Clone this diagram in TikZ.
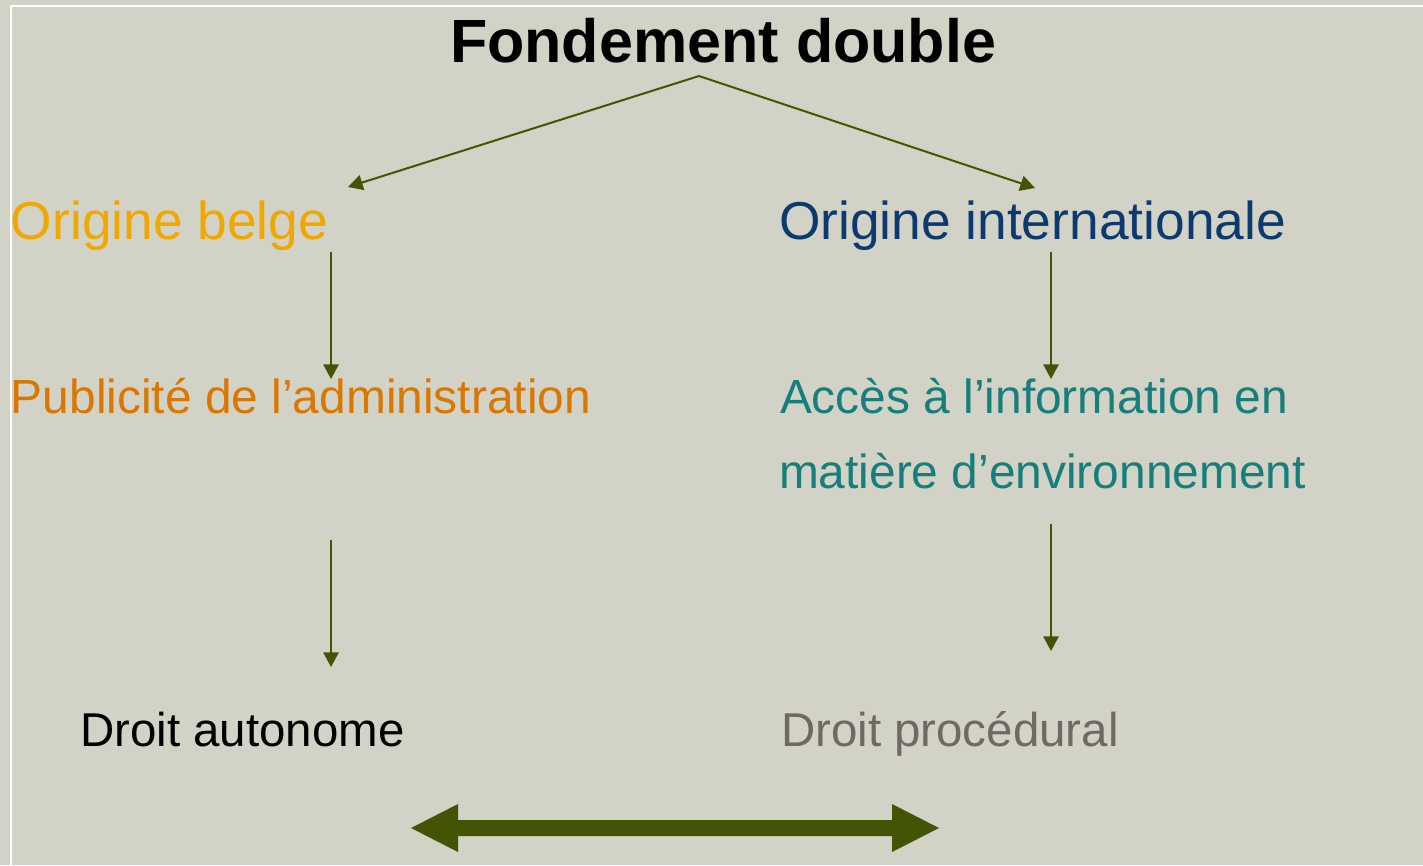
\documentclass[tikz,border=0pt]{standalone}
\usepackage{fontspec}
\setmainfont{Liberation Sans}
\usetikzlibrary{arrows.meta}

\definecolor{bgcol}{HTML}{D2D2C6}
\definecolor{olive}{HTML}{435505}
\definecolor{gold}{HTML}{F0A800}
\definecolor{amber}{HTML}{D97700}
\definecolor{navy}{HTML}{0C3A6E}
\definecolor{teal}{HTML}{167E7B}
\definecolor{stone}{HTML}{6E6962}

\tikzset{
  lbl/.style={anchor=base west, inner sep=0pt, outer sep=0pt},
  big/.style={lbl, font=\fontsize{40pt}{46pt}\selectfont},
  mid/.style={lbl, font=\fontsize{35.9pt}{42pt}\selectfont},
  small/.style={lbl, font=\fontsize{35.6pt}{42pt}\selectfont},
  link/.style={draw=olive, line width=1.5pt,
    -{Triangle[length=11pt, width=11.5pt]}, shorten >=0pt},
}

\begin{document}
\begin{tikzpicture}[x=0.75pt, y=-0.75pt]
  % page and background
  \useasboundingbox (0,0) rectangle (1423,865);
  \fill[bgcol] (0,0) rectangle (1423,865);
  % white frame lines
  \draw[white, line width=1.6pt] (11,866) -- (11,6) -- (1424,6);

  % title
  \node[lbl, font=\fontsize{45.8pt}{52pt}\selectfont\bfseries] (title) at (450,62) {Fondement double};

  % first level
  \node[big, text=gold] (belge) at (11,239) {Origine belge};
  \node[big, text=navy] (intl) at (779,239) {Origine internationale};

  % second level
  \node[mid, text=amber] (publ) at (11,413) {Publicité de l’administration};
  \node[mid, text=teal] (acces) at (780,413) {Accès à l’information en};
  \node[mid, text=teal] (acces2) at (779,488) {matière d’environnement};

  % third level
  \node[small, text=black] (auto) at (80,746) {Droit autonome};
  \node[small, text=stone] (proc) at (781,746) {Droit procédural};

  % connector end points
  \coordinate (apex) at (699,76);
  \coordinate (toBelge) at (348,187);
  \coordinate (toIntl) at (1035,188);
  \coordinate (b1) at (331,252);
  \coordinate (b2) at (331,379);
  \coordinate (i1) at (1051,252);
  \coordinate (i2) at (1051,379);
  \coordinate (b3) at (331,540);
  \coordinate (b4) at (331,667);
  \coordinate (i3) at (1051,524);
  \coordinate (i4) at (1051,651);

  % connectors
  \draw[link] (apex) -- (toBelge);
  \draw[link] (apex) -- (toIntl);
  \draw[link] (b1) -- (b2);
  \draw[link] (i1) -- (i2);
  \draw[link] (b3) -- (b4);
  \draw[link] (i3) -- (i4);

  % thick two-headed arrow
  \fill[olive] (411,828) -- (458,804) -- (458,820) -- (892,820) -- (892,804)
    -- (939,828) -- (892,852) -- (892,836) -- (458,836) -- (458,852) -- cycle;
\end{tikzpicture}
\end{document}
